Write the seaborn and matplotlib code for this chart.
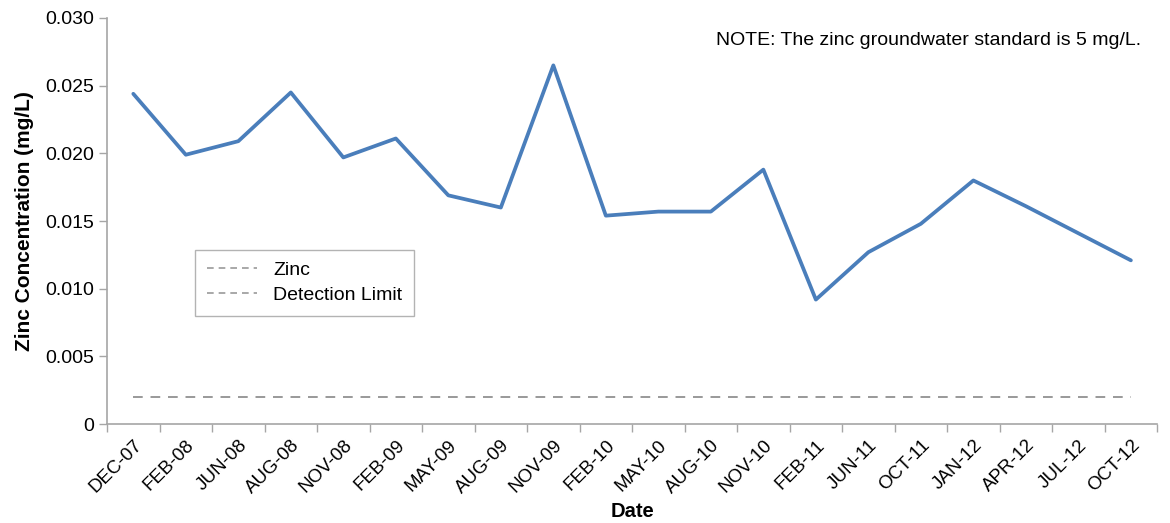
import numpy as np
import pandas as pd
import seaborn as sns
import matplotlib.pyplot as plt
from matplotlib.ticker import FixedLocator

# dane
dates = ["DEC-07", "FEB-08", "JUN-08", "AUG-08", "NOV-08", "FEB-09", "MAY-09",
         "AUG-09", "NOV-09", "FEB-10", "MAY-10", "AUG-10", "NOV-10", "FEB-11",
         "JUN-11", "OCT-11", "JAN-12", "APR-12", "JUL-12", "OCT-12"]
zinc = [0.0244, 0.0199, 0.0209, 0.0245, 0.0197, 0.0211, 0.0169, 0.0160, 0.0265,
        0.0154, 0.0157, 0.0157, 0.0188, 0.0092, 0.0127, 0.0148, 0.0180, 0.0161,
        0.0141, 0.0121]
detection_limit = [0.002] * len(dates)

df = pd.DataFrame({"Date": dates, "Zinc": zinc, "Detection Limit": detection_limit})

sns.set_style("white")
plt.rcParams['font.family'] = ['Liberation Sans', 'DejaVu Sans']
plt.rcParams['text.color'] = 'black'
plt.rcParams['axes.labelcolor'] = 'black'
plt.rcParams['xtick.color'] = 'black'
plt.rcParams['ytick.color'] = 'black'

fig, ax = plt.subplots(figsize=(11.7, 5.23), dpi=100)
fig.subplots_adjust(left=0.0915, right=0.989, bottom=0.189, top=0.9656)

sns.lineplot(data=df, x="Date", y="Zinc", ax=ax, color="#4a7ebb", linewidth=2.7,
             label="_nolegend_")
sns.lineplot(data=df, x="Date", y="Detection Limit", ax=ax, color="#999999",
             linewidth=1.4, linestyle=(0, (5, 4)), label="_nolegend_")

# legenda jak w oryginale (obie pozycje szare, przerywane)
ax.plot([], [], color="#999999", linewidth=1.2, linestyle=(0, (4, 3)), label="Zinc")
ax.plot([], [], color="#999999", linewidth=1.2, linestyle=(0, (4, 3)), label="Detection Limit")
leg = ax.legend(loc="upper left", bbox_to_anchor=(0.084, 0.43), fontsize=14,
                frameon=True, fancybox=False, edgecolor="#a0a0a0",
                handlelength=2.6, borderpad=0.6, labelspacing=0.4,
                borderaxespad=0)
leg.get_frame().set_linewidth(1.0)

n = len(dates)
ax.set_xlim(-0.5, n - 0.5)
ax.set_ylim(0, 0.030)
ax.set_yticks(np.arange(0, 0.0301, 0.005))
ax.set_yticklabels(["0", "0.005", "0.010", "0.015", "0.020", "0.025", "0.030"])

ax.set_xticks(range(n))
ax.set_xticklabels(dates, rotation=45, ha="right", rotation_mode="anchor")
ax.xaxis.set_minor_locator(FixedLocator(np.arange(-0.5, n, 1.0)))
ax.tick_params(axis="x", which="major", length=0, pad=9, labelsize=13.5)
ax.tick_params(axis="x", which="minor", length=6, width=1, color="#a6a6a6", direction="out")
ax.tick_params(axis="y", length=6, width=1, color="#a6a6a6", direction="out", labelsize=14)
ax.tick_params(bottom=True, left=True, which="both")

for s in ["top", "right"]:
    ax.spines[s].set_visible(False)
for s in ["left", "bottom"]:
    ax.spines[s].set_color("#a6a6a6")
    ax.spines[s].set_linewidth(1.2)

ax.set_xlabel("Date", fontsize=14.5, fontweight="bold", labelpad=4)
ax.set_ylabel("Zinc Concentration (mg/L)", fontsize=15, fontweight="bold", labelpad=8)

ax.text(0.985, 0.945, "NOTE: The zinc groundwater standard is 5 mg/L.",
        transform=ax.transAxes, ha="right", va="center", fontsize=14)

plt.savefig("out.png", dpi=100)
